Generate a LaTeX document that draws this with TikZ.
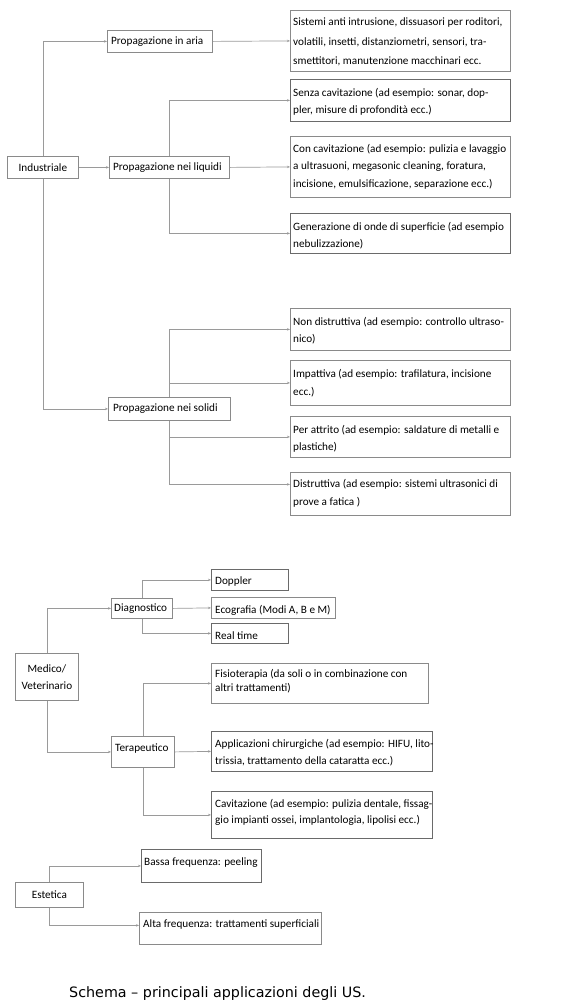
\documentclass[tikz,border=0pt]{standalone}
\usepackage{fontspec}
\setmainfont{Carlito}
\newfontfamily\capfont{DejaVu Sans}
\usetikzlibrary{arrows.meta}
\definecolor{linegray}{HTML}{9A9A9A}
\definecolor{boxgray}{HTML}{8A8A8A}
\definecolor{boxdark}{HTML}{6A6A6A}
\tikzset{
  bx/.style={draw=boxgray, line width=0.8pt, anchor=north west, inner sep=0pt},
  bxd/.style={bx, draw=boxdark},
  lbl/.style={font=\fontsize{11.2}{#1}\selectfont, align=left, inner sep=0pt, anchor=north west, text=black},
  lbl/.default=17.5,
  one/.style={font=\fontsize{11.2}{13}\selectfont, inner sep=0pt, anchor=west, text=black},
  conn/.style={draw=linegray, line width=0.7pt, -{Stealth[length=3pt,width=2.4pt]}},
}
\newcommand{\mkbox}[6][bx]{\node[#1, minimum width=#4pt-#2pt, minimum height=#5pt-#3pt] (#6) at (#2,#3) {};}
\begin{document}
\begin{tikzpicture}[x=1pt,y=-1pt]
\useasboundingbox (0,0) rectangle (564,1007);
\fill[white] (0,0) rectangle (564,1007);

% ---------- boxes ----------
\mkbox{107}{30}{212}{52}{aria}
\mkbox{290}{10}{510}{71}{sist}
\mkbox{7}{156}{78}{178}{ind}
\mkbox{109}{156}{229}{178}{liq}
\mkbox[bxd]{290}{79}{510}{121}{senza}
\mkbox{290}{136}{510}{197}{con}
\mkbox[bxd]{290}{213}{510}{253}{gen}
\mkbox{108}{397}{230}{420}{sol}
\mkbox{290}{308}{510}{350}{nond}
\mkbox{290}{360}{510}{405}{imp}
\mkbox{290}{416}{510}{457}{attr}
\mkbox{290}{472}{510}{515}{dist}
\mkbox{15}{653}{78}{700}{med}
\mkbox{111}{598}{172}{618}{diag}
\mkbox[bxd]{211}{569}{288}{590}{dop}
\mkbox{211}{597}{335}{618}{eco}
\mkbox[bxd]{211}{623}{288}{643}{real}
\mkbox{111}{736}{174}{767}{ter}
\mkbox{211}{663}{428}{703}{fis}
\mkbox[bxd]{211}{731}{432}{771}{app}
\mkbox[bxd]{211}{791}{432}{838}{cav}
\mkbox{15}{882}{83}{907}{est}
\mkbox[bxd]{141}{849}{261}{882}{bas}
\mkbox{139}{912}{321}{944}{alt}

% ---------- texts ----------
\node[one] (aria-t) at ([xshift=4pt]aria.west) {Propagazione in aria};
\node[one] (liq-t) at ([xshift=4pt]liq.west) {Propagazione nei liquidi};
\node[one] (sol-t) at ([xshift=5pt]sol.west) {Propagazione nei solidi};
\node[one, anchor=center] (ind-t) at (ind.center) {Industriale};
\node[one] (diag-t) at ([xshift=3pt]diag.west) {Diagnostico};
\node[one] (ter-t) at ([xshift=4pt,yshift=3pt]ter.west) {Terapeutico};
\node[one] (dop-t) at ([xshift=4pt,yshift=-2pt]dop.west) {Doppler};
\node[one] (eco-t) at ([xshift=4pt,yshift=-2pt]eco.west) {Ecografia (Modi A, B e M)};
\node[one] (real-t) at ([xshift=4pt,yshift=-2pt]real.west) {Real time};
\node[one, anchor=center] (est-t) at ([yshift=0pt]est.center) {Estetica};
\node[lbl=17, align=center, anchor=center] (med-t) at (med.center) {Medico/\\Veterinario};

\node[lbl=19.2] (sist-t) at ([xshift=3pt,yshift=-8pt]sist.north west)
  {Sistemi anti intrusione, dissuasori per roditori,\\volatili, insetti, distanziometri, sensori, tra-\\smettitori, manutenzione macchinari ecc.};
\node[lbl=17.3] (senza-t) at ([xshift=3pt,yshift=-9pt]senza.north west)
  {Senza cavitazione (ad esempio: sonar, dop-\\pler, misure di profondità ecc.)};
\node[lbl=17.5] (con-t) at ([xshift=3pt,yshift=-8pt]con.north west)
  {Con cavitazione (ad esempio: pulizia e lavaggio\\a ultrasuoni, megasonic cleaning, foratura,\\incisione, emulsificazione, separazione ecc.)};
\node[lbl=16.7] (gen-t) at ([xshift=3pt,yshift=-9pt]gen.north west)
  {Generazione di onde di superficie (ad esempio\\nebulizzazione)};
\node[lbl=17] (nond-t) at ([xshift=3pt,yshift=-9pt]nond.north west)
  {Non distruttiva (ad esempio: controllo ultraso-\\nico)};
\node[lbl=17.7] (imp-t) at ([xshift=3pt,yshift=-9pt]imp.north west)
  {Impattiva (ad esempio: trafilatura, incisione\\ecc.)};
\node[lbl=17.3] (attr-t) at ([xshift=3pt,yshift=-9pt]attr.north west)
  {Per attrito (ad esempio: saldature di metalli e\\plastiche)};
\node[lbl=17.7] (dist-t) at ([xshift=3pt,yshift=-7.5pt]dist.north west)
  {Distruttiva (ad esempio: sistemi ultrasonici di\\prove a fatica )};
\node[lbl=13.3] (fis-t) at ([xshift=4pt,yshift=-6.5pt]fis.north west)
  {Fisioterapia (da soli o in combinazione con\\altri trattamenti)};
\node[lbl=17.3] (app-t) at ([xshift=4pt,yshift=-8pt]app.north west)
  {Applicazioni chirurgiche (ad esempio: HIFU, lito-\\trissia, trattamento della cataratta ecc.)};
\node[lbl=16] (cav-t) at ([xshift=4pt,yshift=-8pt]cav.north west)
  {Cavitazione (ad esempio: pulizia dentale, fissag-\\gio impianti ossei, implantologia, lipolisi ecc.)};
\node[lbl] (bas-t) at ([xshift=3pt,yshift=-8.5pt]bas.north west) {Bassa frequenza: peeling};
\node[lbl] (alt-t) at ([xshift=4pt,yshift=-7.5pt]alt.north west) {Alta frequenza: trattamenti superficiali};

\node[font=\capfont\fontsize{14.3}{16}\selectfont, inner sep=0pt, anchor=base west] (cap) at (69,997)
  {Schema – principali applicazioni degli US.};

% ---------- connectors ----------
\draw[conn] (ind.north) |- (aria.west);
\draw[conn] (ind.east) -- (liq.west);
\draw[conn] (ind.south) |- (sol.west);
\draw[conn] (aria.east) -- (sist.west);
\draw[conn] (liq.east) -- (con.west);
\draw[conn] (liq.north) |- (senza.west);
\draw[conn] (liq.south) |- (gen.west);
\draw[conn] (sol.north) |- (nond.west);
\draw[conn] (sol.north) |- (imp.west);
\draw[conn] (sol.south) |- (attr.west);
\draw[conn] (sol.south) |- ([yshift=9.5pt]dist.west);

\draw[conn] (med.north) |- (diag.west);
\draw[conn] (med.south) |- (ter.west);
\draw[conn] (diag.north) |- (dop.west);
\draw[conn] (diag.east) -- (eco.west);
\draw[conn] (diag.south) |- (real.west);
\draw[conn] (ter.north) |- (fis.west);
\draw[conn] (ter.east) -- (app.west);
\draw[conn] (ter.south) |- (cav.west);

\draw[conn] (est.north) |- (bas.west);
\draw[conn] (est.south) |- ([yshift=3pt]alt.west);
\end{tikzpicture}
\end{document}
